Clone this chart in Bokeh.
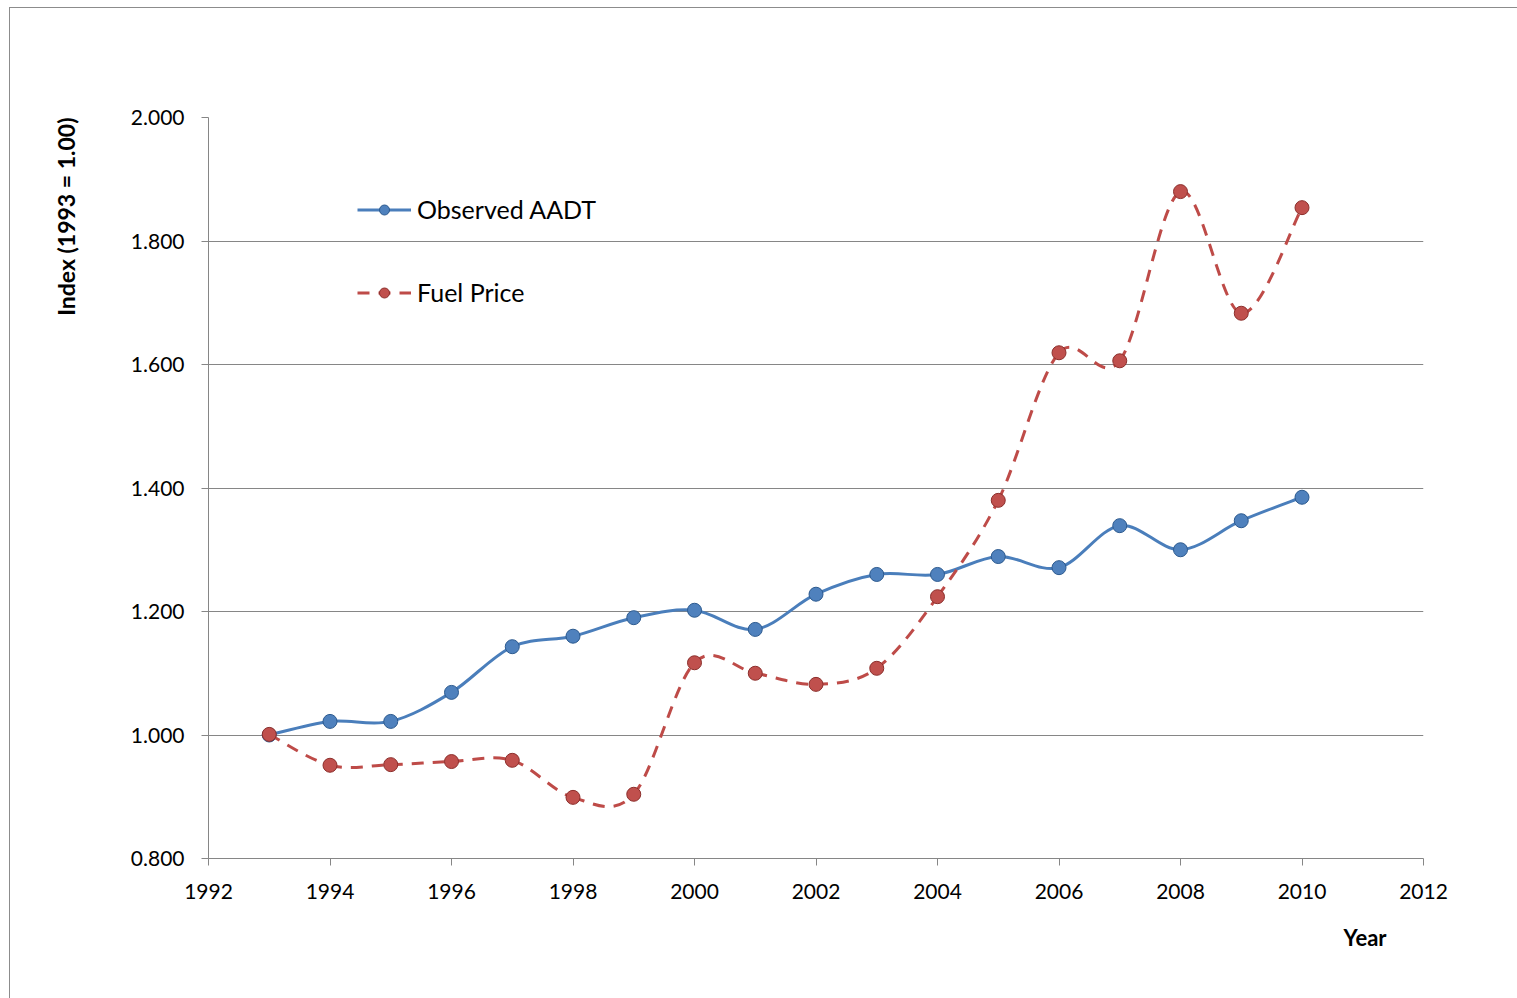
import numpy as np
from bokeh.plotting import figure
from bokeh.models import (FixedTicker, NumeralTickFormatter, Legend, LegendItem,
                          Title, Range1d, ColumnDataSource)
from bokeh.embed import file_html
from bokeh.resources import INLINE

years = [1993, 1994, 1995, 1996, 1997, 1998, 1999, 2000, 2001, 2002,
         2003, 2004, 2005, 2006, 2007, 2008, 2009, 2010]
aadt = [1.000, 1.022, 1.022, 1.069, 1.143, 1.160, 1.190, 1.202, 1.171, 1.228,
        1.260, 1.260, 1.289, 1.271, 1.339, 1.300, 1.347, 1.385]
fuel = [1.001, 0.951, 0.952, 0.957, 0.959, 0.899, 0.904, 1.117, 1.100, 1.082,
        1.108, 1.224, 1.380, 1.619, 1.606, 1.880, 1.683, 1.854]
x_ticks = [1992, 1994, 1996, 1998, 2000, 2002, 2004, 2006, 2008, 2010, 2012]
y_ticks = [0.8, 1.0, 1.2, 1.4, 1.6, 1.8, 2.0]
series_names = ["Observed AADT", "Fuel Price"]

FONT = "Lato"
GRID = "#868686"
BORDER = "#8C8C8C"

p = figure(width=1517, height=998, output_backend="svg", toolbar_location=None,
           x_range=Range1d(1992, 2012), y_range=Range1d(0.8, 2.0),
           min_border_left=208, min_border_right=94, min_border_top=117,
           min_border_bottom=140)
p.outline_line_color = None
p.background_fill_color = "white"
p.border_fill_alpha = 0
p.styles = {
    "background": (f"linear-gradient({BORDER},{BORDER}) 9px 7px / 1px 100% no-repeat, "
                   f"linear-gradient({BORDER},{BORDER}) 9px 7px / 100% 1px no-repeat, "
                   "#ffffff"),
}

p.xgrid.grid_line_color = None
p.ygrid.grid_line_color = GRID
p.ygrid.grid_line_width = 1
p.ygrid.ticker = FixedTicker(ticks=y_ticks)

for ax in (p.xaxis, p.yaxis):
    ax.axis_line_color = GRID
    ax.major_tick_line_color = GRID
    ax.minor_tick_line_color = None
    ax.major_tick_in = 0
    ax.major_tick_out = 7
    ax.major_label_text_font = FONT
    ax.major_label_text_font_size = "21px"
    ax.major_label_text_color = "#000000"
    ax.major_label_text_font_style = "normal"

p.xaxis.ticker = FixedTicker(ticks=x_ticks)
p.yaxis.ticker = FixedTicker(ticks=y_ticks)
p.yaxis.formatter = NumeralTickFormatter(format="0.000")
p.xaxis.major_label_standoff = 18
p.yaxis.major_label_standoff = 17


def bezier_parts(xs, ys):
    xs = np.asarray(xs, float)
    ys = np.asarray(ys, float)
    n = len(xs)
    x0, y0, x1, y1, cx0, cy0, cx1, cy1 = ([] for _ in range(8))
    for i in range(n - 1):
        pm = i - 1 if i > 0 else i
        pp = i + 2 if i + 2 < n else i + 1
        x0.append(xs[i]); y0.append(ys[i])
        x1.append(xs[i + 1]); y1.append(ys[i + 1])
        cx0.append(xs[i] + (xs[i + 1] - xs[pm]) / 6.0)
        cy0.append(ys[i] + (ys[i + 1] - ys[pm]) / 6.0)
        cx1.append(xs[i + 1] - (xs[pp] - xs[i]) / 6.0)
        cy1.append(ys[i + 1] - (ys[pp] - ys[i]) / 6.0)
    return dict(x0=x0, y0=y0, x1=x1, y1=y1, cx0=cx0, cy0=cy0, cx1=cx1, cy1=cy1)


styles = [
    dict(line="#4A7EBB", fill="#4F81BD", edge="#2C5A8F", dash="solid", vals=aadt),
    dict(line="#BE4B48", fill="#C0504D", edge="#8C2F2C", dash="12 9", vals=fuel),
]

items = []
for name, st in zip(series_names, styles):
    src = ColumnDataSource(bezier_parts(years, st["vals"]))
    br = p.bezier(x0="x0", y0="y0", x1="x1", y1="y1", cx0="cx0", cy0="cy0",
                  cx1="cx1", cy1="cy1", source=src, line_color=st["line"],
                  line_width=3, line_dash=st["dash"])
    sr = p.scatter(years, st["vals"], size=14, fill_color=st["fill"],
                   line_color=st["edge"], line_width=1)
    items.append(LegendItem(label=name, renderers=[br, sr]))

legend = Legend(items=items, location=(149, 551), orientation="vertical",
                glyph_width=54, glyph_height=25, label_height=25,
                label_standoff=6, spacing=53, padding=0, margin=0,
                border_line_color=None, background_fill_alpha=0,
                label_text_font=FONT, label_text_font_size="25px",
                label_text_color="#000000")
p.add_layout(legend, "center")

ytitle = Title(text="Index (1993 = 1.00)", align="right", text_font=FONT,
               text_font_size="23px", text_font_style="bold",
               text_color="#000000", standoff=96)
p.add_layout(ytitle, "left")
xtitle = Title(text="Year", align="right", offset=37, text_font=FONT,
               text_font_size="22px", text_font_style="bold",
               text_color="#000000", standoff=40)
p.add_layout(xtitle, "below")

open("out.html", "w").write(file_html(p, INLINE))
